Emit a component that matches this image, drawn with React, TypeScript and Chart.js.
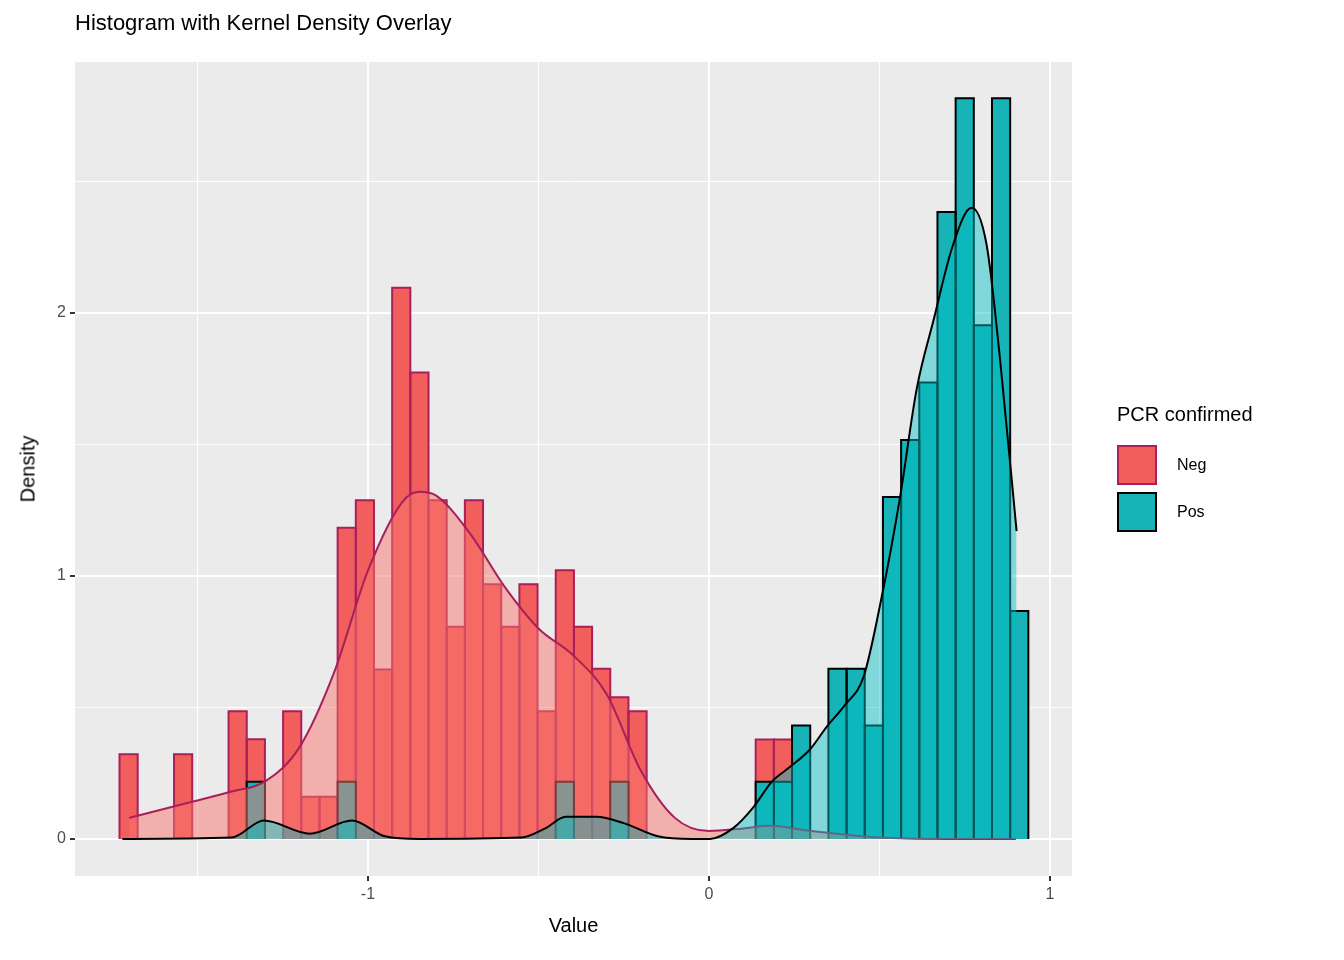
import React, { useEffect, useRef } from "react";
import { Chart, registerables } from "chart.js";
Chart.register(...registerables);

const binStart = -1.7285;
const binWidth = 0.0533;
// density per bin index (0..49)
const negBins = [0.322,0,0,0.322,0,0,0.485,0.379,0,0.485,0.16,0.16,1.183,1.288,0.644,2.096,1.773,1.288,0.807,1.288,0.968,0.807,0.968,0.485,1.022,0.807,0.647,0.539,0.485,0,0,0,0,0,0,0.378,0.378,0,0,0,0,0,0,0,0,0,0,0,0,0];
const posBins = [0,0,0,0,0,0,0,0.217,0,0,0,0,0.217,0,0,0,0,0,0,0,0,0,0,0,0.217,0,0,0.217,0,0,0,0,0,0,0,0.217,0.217,0.431,0,0.647,0.647,0.431,1.3,1.517,1.735,2.384,2.816,1.953,2.816,0.867];
const negDensX = [-1.70,-1.55,-1.40,-1.30,-1.20,-1.10,-1.00,-0.90,-0.85,-0.80,-0.70,-0.60,-0.50,-0.40,-0.30,-0.20,-0.10,0.0,0.1,0.18,0.3,0.5,0.7,0.9];
const negDensY = [0.08,0.13,0.18,0.22,0.35,0.63,1.02,1.28,1.32,1.305,1.16,0.96,0.80,0.70,0.55,0.26,0.08,0.03,0.04,0.05,0.03,0.005,0.0,0.0];
const posDensX = [-1.72,-1.40,-1.305,-1.17,-1.047,-0.95,-0.85,-0.55,-0.48,-0.42,-0.33,-0.25,-0.15,-0.05,0.003,0.07,0.13,0.184,0.238,0.296,0.345,0.399,0.453,0.506,0.56,0.609,0.658,0.716,0.77,0.814,0.853,0.902];
const posDensY = [0,0.005,0.07,0.02,0.07,0.01,0,0.005,0.04,0.084,0.084,0.06,0.01,0,0,0.04,0.12,0.217,0.274,0.34,0.426,0.51,0.615,0.917,1.297,1.71,1.97,2.26,2.4,2.26,1.83,1.17];
const xTicks = [-1.5, -1, -0.5, 0, 0.5, 1];
const yTicks = [0, 0.5, 1, 1.5, 2, 2.5];

function histPoints(bins: number[]) {
  const pts: { x: number; y: number }[] = [];
  bins.forEach((h, i) => {
    if (h <= 0) return;
    const l = binStart + i * binWidth, r = l + binWidth;
    pts.push({ x: l, y: 0 }, { x: l, y: h }, { x: r, y: h }, { x: r, y: 0 });
  });
  return pts;
}
const zip = (xs: number[], ys: number[]) => xs.map((x, i) => ({ x, y: ys[i] }));

const bgPlugin = {
  id: "panelBg",
  beforeDraw(chart: any) {
    const { ctx, chartArea: a } = chart;
    ctx.save();
    ctx.fillStyle = "#EBEBEB";
    ctx.fillRect(a.left, a.top, a.right - a.left, a.bottom - a.top);
    ctx.restore();
  },
};

const hideBase = (color: string) => ({
  borderColor: (c: any) => (c.p0.parsed.y === 0 && c.p1.parsed.y === 0 ? "rgba(0,0,0,0)" : color),
});

export default function App() {
  const ref = useRef<HTMLCanvasElement>(null);
  useEffect(() => {
    const isMajor = (v: number) => Math.abs(v - Math.round(v)) < 1e-6;
    const chart = new Chart(ref.current!, {
      type: "line",
      plugins: [bgPlugin],
      data: {
        datasets: [
          { data: histPoints(negBins), order: 4, borderColor: "#A8205A", borderWidth: 2, backgroundColor: "#F25E5B", fill: "origin", tension: 0, pointRadius: 0, segment: hideBase("#A8205A") },
          { data: histPoints(posBins), order: 3, borderColor: "#000000", borderWidth: 2, backgroundColor: "#17B3B6", fill: "origin", tension: 0, pointRadius: 0, segment: hideBase("#000000") },
          { data: zip(negDensX, negDensY), order: 2, borderColor: "#A8205A", borderWidth: 2, backgroundColor: "rgba(248,118,109,0.5)", fill: "origin", tension: 0.4, cubicInterpolationMode: "monotone", pointRadius: 0 },
          { data: zip(posDensX, posDensY), order: 1, borderColor: "#000000", borderWidth: 2, backgroundColor: "rgba(0,191,196,0.45)", fill: "origin", tension: 0.4, cubicInterpolationMode: "monotone", pointRadius: 0 },
        ],
      } as any,
      options: {
        animation: false,
        responsive: false,
        layout: { padding: { left: 0, top: 62, right: 272, bottom: 0 } },
        plugins: { legend: { display: false }, tooltip: { enabled: false } },
        scales: {
          x: {
            type: "linear", min: -1.859, max: 1.0645,
            afterBuildTicks: (s: any) => { s.ticks = xTicks.map((v) => ({ value: v })); },
            afterFit: (s: any) => { s.height = 84; },
            ticks: { color: "#4D4D4D", font: { family: "Liberation Sans", size: 16 }, padding: 4, maxRotation: 0, callback: (v: any) => (isMajor(v) ? String(v) : "") },
            grid: { color: "#FFFFFF", lineWidth: (c: any) => (isMajor(c.tick.value) ? 2 : 1), tickLength: 5, tickColor: (c: any) => (isMajor(c.tick.value) ? "#333333" : "rgba(0,0,0,0)") },
            border: { display: false },
          },
          y: {
            type: "linear", min: -0.141, max: 2.954,
            afterBuildTicks: (s: any) => { s.ticks = yTicks.map((v) => ({ value: v })); },
            afterFit: (s: any) => { s.width = 75; },
            ticks: { color: "#4D4D4D", font: { family: "Liberation Sans", size: 16 }, padding: 4, callback: (v: any) => (isMajor(v) ? String(v) : "") },
            grid: { color: "#FFFFFF", lineWidth: (c: any) => (isMajor(c.tick.value) ? 2 : 1), tickLength: 5, tickColor: (c: any) => (isMajor(c.tick.value) ? "#333333" : "rgba(0,0,0,0)") },
            border: { display: false },
          },
        },
      } as any,
    });
    return () => chart.destroy();
  }, []);
  const font = "'Liberation Sans', Arial, sans-serif";
  return (
    <div style={{ position: "absolute", left: 0, top: 0, width: 1344, height: 960, background: "#fff", fontFamily: font }}>
      <canvas ref={ref} width={1344} height={960} style={{ position: "absolute", left: 0, top: 0 }} />
      <div style={{ position: "absolute", left: 75, top: 10, fontSize: 22, color: "#000" }}>Histogram with Kernel Density Overlay</div>
      <div style={{ position: "absolute", left: 75, width: 997, top: 914, textAlign: "center", fontSize: 20 }}>Value</div>
      <div style={{ position: "absolute", left: 28, top: 469, fontSize: 20, transform: "translate(-50%,-50%) rotate(-90deg)", whiteSpace: "nowrap" }}>Density</div>
      <div style={{ position: "absolute", left: 1117, top: 403, fontSize: 20 }}>PCR confirmed</div>
      <div style={{ position: "absolute", left: 1117, top: 445, width: 40, height: 40, background: "#F25E5B", border: "2px solid #A8205A", boxSizing: "border-box" }} />
      <div style={{ position: "absolute", left: 1177, top: 456, fontSize: 16 }}>Neg</div>
      <div style={{ position: "absolute", left: 1117, top: 492, width: 40, height: 40, background: "#17B3B6", border: "2px solid #000", boxSizing: "border-box" }} />
      <div style={{ position: "absolute", left: 1177, top: 503, fontSize: 16 }}>Pos</div>
    </div>
  );
}
